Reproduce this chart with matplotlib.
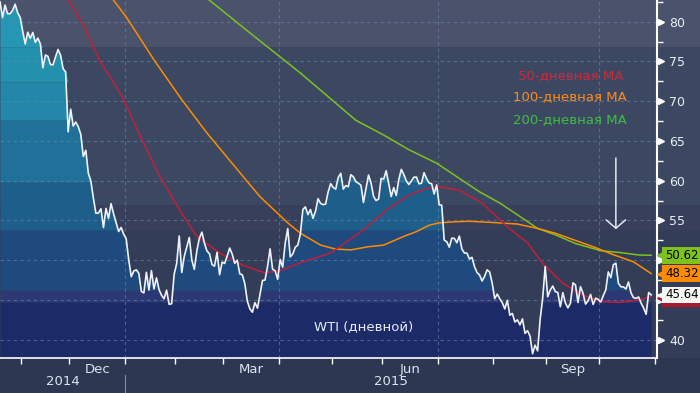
import numpy as np
import pandas as pd
import matplotlib
matplotlib.use('Agg')
import matplotlib.pyplot as plt
from matplotlib.patches import Rectangle
from matplotlib.transforms import blended_transform_factory, offset_copy

plt.rcParams['font.family'] = ['DejaVu Sans']

# NYMEX holidays inside the window (x axis is trading-day index, Bloomberg style)
holidays = ['2014-11-27', '2014-12-25', '2015-01-01', '2015-01-19', '2015-02-16',
            '2015-04-03', '2015-05-25', '2015-07-03', '2015-09-07', '2015-11-26']
first_day = '2014-10-21'

# WTI daily close, 2014-10-21 .. 2015-10-29
wti = [
    82.49, 80.52, 82.09, 81.01, 81.00, 81.42, 82.20, 81.12, 80.54,
    78.78, 77.19, 78.68, 77.91, 78.65, 77.40, 77.94, 77.18, 74.21, 75.82,
    75.64, 74.61, 74.58, 75.58, 76.51, 75.78, 74.09, 73.69, 66.15,
    69.00, 66.88, 67.38, 66.81, 65.84, 63.05, 63.82, 60.94, 59.95, 57.81, 55.91,
    55.93, 56.47, 54.11, 56.52, 55.26, 57.12, 55.84, 54.73, 53.61, 54.12, 53.27,
    52.69, 50.04, 47.93, 48.65, 48.79, 48.36, 46.07, 45.89, 48.48, 46.25,
    48.69, 46.39, 47.78, 46.31, 45.59, 45.15, 46.23, 44.45, 44.53, 48.24,
    49.57, 53.05, 48.45, 50.48, 51.69, 52.86, 50.02, 48.84, 51.21, 52.78,
    53.53, 52.14, 51.16, 50.81, 49.45, 49.25, 50.99, 48.17, 49.76,
    49.59, 50.52, 51.53, 50.76, 49.61, 50.00, 48.29, 48.17, 47.05, 44.84, 43.88,
    43.46, 44.66, 43.96, 45.72, 47.45, 47.51, 49.21, 51.43, 48.87, 48.68, 47.60,
    50.09, 49.14, 52.14, 53.98, 50.42, 50.79, 51.64, 51.91, 53.29, 56.39, 56.71,
    55.74, 56.38, 55.26, 56.16, 57.74, 57.15, 56.99, 57.06, 58.58, 59.63,
    59.15, 58.93, 60.40, 60.93, 58.94, 59.39, 59.25, 60.75, 60.50, 59.88,
    59.69, 59.43, 57.26, 58.98, 60.72, 59.72, 58.03, 57.51, 57.68, 60.30,
    60.20, 61.26, 59.64, 58.00, 59.13, 58.14, 60.14, 61.43, 60.77, 59.96, 59.52,
    59.97, 60.45, 60.45, 59.61, 59.68, 61.01, 60.27, 59.70, 59.63, 58.33, 59.47,
    56.96, 56.93, 52.53, 52.33, 51.65, 52.78, 52.74, 52.20, 53.04, 51.41, 50.91,
    50.89, 50.15, 50.36, 49.19, 48.45, 48.14, 47.39, 47.98, 48.79, 48.52, 47.12,
    45.17, 45.74, 45.15, 44.66, 43.87, 44.96, 43.08, 43.30, 42.23, 42.50, 41.87,
    42.62, 40.80, 41.14, 40.45, 38.24, 39.31, 38.60, 42.56, 45.22, 49.20,
    45.41, 46.25, 46.75, 46.05, 45.94, 44.15, 45.92, 44.63, 44.00, 44.59, 47.15,
    46.90, 44.68, 46.68, 45.83, 44.48, 44.91, 45.70, 44.43, 45.23, 45.09,
    44.74, 45.54, 46.26, 48.53, 47.81, 49.43, 49.63, 47.10, 46.66, 46.64, 46.38,
    47.26, 45.89, 45.29, 45.20, 45.38, 44.60, 43.98, 43.20, 45.94, 45.64,
]

ma50_dates = ['2014-11-21', '2014-11-28', '2014-12-08', '2014-12-17', '2014-12-23', '2014-12-31',
              '2015-01-09', '2015-01-22', '2015-02-04', '2015-02-12', '2015-02-26', '2015-03-11',
              '2015-03-24', '2015-04-01', '2015-04-15', '2015-04-30', '2015-05-19', '2015-06-02',
              '2015-06-15', '2015-06-24', '2015-07-01', '2015-07-14', '2015-07-27', '2015-08-10',
              '2015-08-20', '2015-08-28', '2015-09-10', '2015-09-22', '2015-10-01', '2015-10-13',
              '2015-10-22', '2015-10-29']
ma50_vals = [84.9, 82.8, 79.6, 74.8, 72.9, 70.2, 66.0, 60.7, 55.9, 53.0, 50.9, 49.4,
             48.4, 48.7, 49.8, 50.9, 53.8, 56.3, 58.2, 59.05, 59.25, 58.8, 57.2, 54.2,
             52.2, 49.6, 47.1, 45.6, 44.8, 44.7, 45.0, 45.4]

ma100_dates = ['2014-12-17', '2014-12-24', '2015-01-02', '2015-01-20', '2015-02-04', '2015-02-19',
               '2015-03-16', '2015-03-20', '2015-03-31', '2015-04-07', '2015-04-14', '2015-04-24',
               '2015-05-04', '2015-05-12', '2015-05-21', '2015-06-01', '2015-06-11', '2015-06-18',
               '2015-06-25', '2015-07-01', '2015-07-13', '2015-07-20', '2015-07-31', '2015-08-14',
               '2015-08-26', '2015-09-04', '2015-09-16', '2015-09-28', '2015-10-08', '2015-10-20',
               '2015-10-29']
ma100_vals = [85.4, 82.7, 80.6, 75.2, 70.2, 66.0, 59.5, 58.0, 55.9, 54.7, 53.4, 51.9,
              51.4, 51.3, 51.7, 51.9, 53.0, 53.6, 54.4, 54.7, 54.85, 54.9, 54.75, 54.55,
              54.0, 53.4, 52.6, 51.7, 50.7, 49.8, 48.32]

ma200_dates = ['2015-02-03', '2015-02-20', '2015-03-16', '2015-04-14', '2015-05-14', '2015-06-01',
               '2015-06-15', '2015-06-30', '2015-07-13', '2015-07-24', '2015-08-05', '2015-08-17',
               '2015-08-26', '2015-09-04', '2015-09-17', '2015-10-01', '2015-10-13', '2015-10-22',
               '2015-10-29']
ma200_vals = [85.6, 82.7, 78.6, 73.55, 67.6, 65.75, 63.9, 62.2, 60.5, 58.6, 57.2, 55.5,
              54.0, 53.2, 52.1, 51.2, 50.95, 50.66, 50.62]

legend_labels = ['50-дневная MA', '100-дневная MA', '200-дневная MA']
series_label = 'WTI (дневной)'
month_labels = ['Dec', 'Mar', 'Jun', 'Sep']
month_keys = [201412, 201503, 201506, 201509]
year_labels = ['2014', '2015']
y_ticks = [40, 45, 50, 55, 60, 65, 70, 75, 80]
y_ticklabels = ['40', '', '', '55', '60', '65', '70', '75', '80']  # 45/50 sit under the badges
arrow_date = '2015-10-09'
arrow_from, arrow_to = 63.2, 53.55

# colour bands (value ranges)
fill_bands = [(37.74, 44.75, '#1c2b68'), (44.75, 46.25, '#2c3874'), (46.25, 53.8, '#1e4a7d'),
              (53.8, 59.84, '#1e5e8b'), (59.84, 67.64, '#1f7199'), (67.64, 72.42, '#2287a8'),
              (72.42, 76.82, '#2390ae'), (76.82, 90.0, '#2596b4')]
bg_bands = [(30.0, 53.8, '#333d57'), (53.8, 56.95, '#373f5b'), (56.95, 76.82, '#3c4862'),
            (76.82, 90.0, '#4a526c')]

YMIN, YMAX = 37.74, 82.73
XMIN, XMAX = 0.0, 260.3

dates = pd.bdate_range(first_day, '2015-11-30', freq='C', holidays=holidays)
x_wti = np.arange(len(wti))
y_wti = np.array(wti)


def to_idx(ds):
    return dates.get_indexer(pd.to_datetime(ds))


fig = plt.figure(figsize=(7, 3.93), dpi=100, facecolor='#2c3852')
bottom = 35.3 / 393
height = 357.7 / 393
axw = 657 / 700

bg = fig.add_axes([0, bottom, 1, height])
bg.set_ylim(YMIN, YMAX)
for lo, hi, c in bg_bands:
    bg.axhspan(lo, hi, color=c, lw=0)
bg.axis('off')

ax = fig.add_axes([0, bottom, axw, height])
ax.set_facecolor('none')
ax.set_xlim(XMIN, XMAX)
ax.set_ylim(YMIN, YMAX)

for lo, hi, c in fill_bands:
    ax.fill_between(x_wti, lo, np.clip(y_wti, lo, hi), color=c, lw=0, zorder=1)

# month boundaries
month_id = dates.year * 12 + dates.month
bounds = np.where(np.diff(month_id) != 0)[0] + 0.5
bounds = bounds[(bounds > XMIN) & (bounds < XMAX + 1)]
quarter = [b for b in bounds if dates[int(b + 0.5)].month in (1, 4, 7, 10)]

grid_kw = dict(color='#6d88aa', lw=0.8, ls=(0, (3, 3)), alpha=0.6, zorder=2)
for v in y_ticks:
    ax.axhline(v, **grid_kw)
for b in quarter:
    ax.axvline(b, **grid_kw)

ax.plot(to_idx(ma200_dates), ma200_vals, color='#7dc21e', lw=1.1, zorder=3)
ax.plot(to_idx(ma100_dates), ma100_vals, color='#ff8c00', lw=1.1, zorder=3)
ax.plot(to_idx(ma50_dates), ma50_vals, color='#c41e3a', lw=1.1, zorder=3)
ax.plot(x_wti, y_wti, color='#eef2f7', lw=1.2, zorder=4)

# arrow
xa = to_idx([arrow_date])[0]
ax.annotate('', xy=(xa, arrow_to), xytext=(xa, arrow_from),
            arrowprops=dict(arrowstyle='->,head_length=0.6,head_width=0.7',
                            color='#e4e9f0', lw=1.1), zorder=5)

# legend texts
leg_colors = ['#cc2a3c', '#ff8c1a', '#3fbf3f']
for lab, c, yy in zip(legend_labels, leg_colors, [0.790, 0.729, 0.6645]):
    ax.text(0.868, yy, lab, transform=ax.transAxes, color=c, fontsize=9.5,
            ha='center', va='center', zorder=6)
ax.text(0.554, 0.0858, series_label, transform=ax.transAxes, color='#e6ecf5',
        fontsize=9.5, ha='center', va='center', zorder=6)

# spines
for s in ['left', 'top']:
    ax.spines[s].set_visible(False)
ax.spines['right'].set_color('white')
ax.spines['right'].set_linewidth(1.5)
ax.spines['bottom'].set_color('white')
ax.spines['bottom'].set_linewidth(1.2)

# y axis on the right
ax.yaxis.tick_right()
ax.set_yticks(y_ticks)
ax.set_yticklabels(y_ticklabels)
ax.set_yticks([v + 2.5 for v in range(35, 85, 5) if YMIN < v + 2.5 < YMAX], minor=True)
ax.tick_params(axis='y', which='major', length=0, pad=9, labelsize=9, labelcolor='#e8eef5')
ax.tick_params(axis='y', which='minor', length=4, width=1, color='white', direction='out')
tr = blended_transform_factory(ax.transAxes, ax.transData)
ax.plot([1.0] * len(y_ticks), y_ticks, ls='none', marker='>', ms=5, color='white',
        transform=offset_copy(tr, fig=fig, x=4, units='dots'), clip_on=False, zorder=6)

# x axis
ax.set_xticks(bounds)
ax.set_xticklabels([])
ym = dates.year * 100 + dates.month
mids = [np.mean(np.where(ym == k)[0]) for k in month_keys]
ax.set_xticks(mids, minor=True)
ax.set_xticklabels(month_labels, minor=True)
ax.tick_params(axis='x', which='major', length=4, width=1, color='white', direction='out')
ax.tick_params(axis='x', which='minor', length=0, pad=4, labelsize=9.5, labelcolor='#dde4ee')

year_bound = [b for b in bounds if dates[int(b + 0.5)].month == 1][0]
trx = blended_transform_factory(ax.transData, ax.transAxes)
for lab, (a, b) in zip(year_labels, [(XMIN, year_bound), (year_bound, XMAX)]):
    ax.text((a + b) / 2, -0.066, lab, transform=trx, ha='center', va='center',
            fontsize=9.5, color='#dde4ee')
ax.plot([year_bound, year_bound], [-0.048, -0.1], transform=trx, color='#7d8aa3',
        lw=0.8, clip_on=False)


# value badges on the right axis
def badge_box(val, fc, z):
    ax.plot([1.0], [val], marker='<', ms=7, color=fc, ls='none', clip_on=False, zorder=z,
            transform=offset_copy(tr, fig=fig, x=5, units='dots'))
    ax.add_patch(Rectangle((1.008, val - 1.05), 0.07, 2.1, transform=tr, fc=fc, ec='none',
                           clip_on=False, zorder=z))


def badge(val, fc, z):
    badge_box(val, fc, z)
    ax.text(1.0, val, f'{val:.2f}', transform=offset_copy(tr, fig=fig, x=8, units='dots'),
            ha='left', va='center', fontsize=8.5, color='black', clip_on=False, zorder=z + 0.5)


badge(ma200_vals[-1], '#7dc21e', 7)
badge(ma100_vals[-1], '#ff8c00', 7)
badge_box(ma50_vals[-1] - 0.2, '#a8182e', 7)
badge(wti[-1], '#f7f7f5', 8)

fig.savefig('out.png', dpi=100, facecolor=fig.get_facecolor())
